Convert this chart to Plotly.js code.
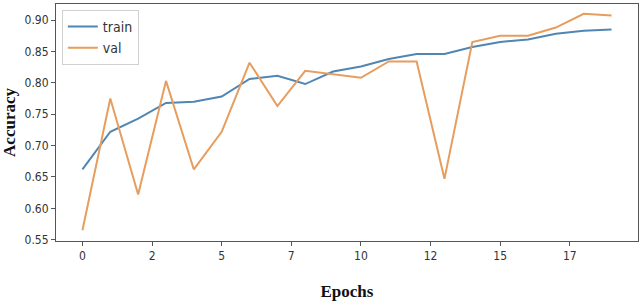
<!DOCTYPE html>
<html>
<head>
<meta charset="utf-8">
<script src="https://cdn.plot.ly/plotly-3.0.1.min.js"></script>
<style>html,body{margin:0;padding:0;background:#fff;}#chart{width:640px;height:304px;}</style>
</head>
<body>
<div id="chart"></div>
<script>
const epochs = [0,1,2,3,4,5,6,7,8,9,10,11,12,13,14,15,16,17,18,19];
const trainAcc = [0.662,0.722,0.743,0.768,0.770,0.778,0.806,0.811,0.798,0.818,0.826,0.838,0.846,0.846,0.857,0.865,0.869,0.878,0.883,0.885];
const valAcc = [0.565,0.775,0.622,0.803,0.662,0.722,0.832,0.763,0.819,0.813,0.808,0.834,0.834,0.647,0.865,0.875,0.875,0.888,0.910,0.907];
const xTickVals = [0,2.5,5,7.5,10,12.5,15,17.5];
const xTickText = ["0","2","5","7","10","12","15","17"];
const yTickVals = [0.55,0.60,0.65,0.70,0.75,0.80,0.85,0.90];
const yTickText = ["0.55","0.60","0.65","0.70","0.75","0.80","0.85","0.90"];

const tickFont = {family: "DejaVu Sans Condensed, Liberation Sans Narrow, sans-serif", size: 12, color: "#333"};
const titleFont = {family: "Liberation Serif, Times New Roman, serif", size: 17, color: "#111", weight: "bold"};

const data = [
  {x: epochs, y: trainAcc, name: "train", mode: "lines", type: "scatter",
   line: {color: "#4f86b3", width: 2}},
  {x: epochs, y: valAcc, name: "val", mode: "lines", type: "scatter",
   line: {color: "#e69d5e", width: 2}}
];
const layout = {
  width: 640, height: 304,
  margin: {l: 56, r: 2, t: 4, b: 63},
  paper_bgcolor: "#fff", plot_bgcolor: "#fff",
  showlegend: true,
  legend: {x: 0.01, y: 0.975, xanchor: "left", yanchor: "top",
    bgcolor: "#fff", bordercolor: "#d0d0d0", borderwidth: 1,
    font: {family: "DejaVu Sans Condensed, Liberation Sans Narrow, sans-serif", size: 14, color: "#333"}},
  xaxis: {range: [-0.95, 19.95], tickvals: xTickVals, ticktext: xTickText,
    showgrid: false, zeroline: false, showline: true, linecolor: "#555", linewidth: 1, mirror: true,
    ticks: "outside", ticklen: 4, tickcolor: "#555", tickfont: tickFont,
    title: {text: "Epochs", font: titleFont, standoff: 22}},
  yaxis: {range: [0.548, 0.9255], tickvals: yTickVals, ticktext: yTickText,
    showgrid: false, zeroline: false, showline: true, linecolor: "#555", linewidth: 1, mirror: true,
    ticks: "outside", ticklen: 4, tickcolor: "#555", tickfont: tickFont,
    title: {text: "Accuracy", font: titleFont, standoff: 4}}
};
Plotly.newPlot("chart", data, layout, {displayModeBar: false, staticPlot: true});
</script>
</body>
</html>
